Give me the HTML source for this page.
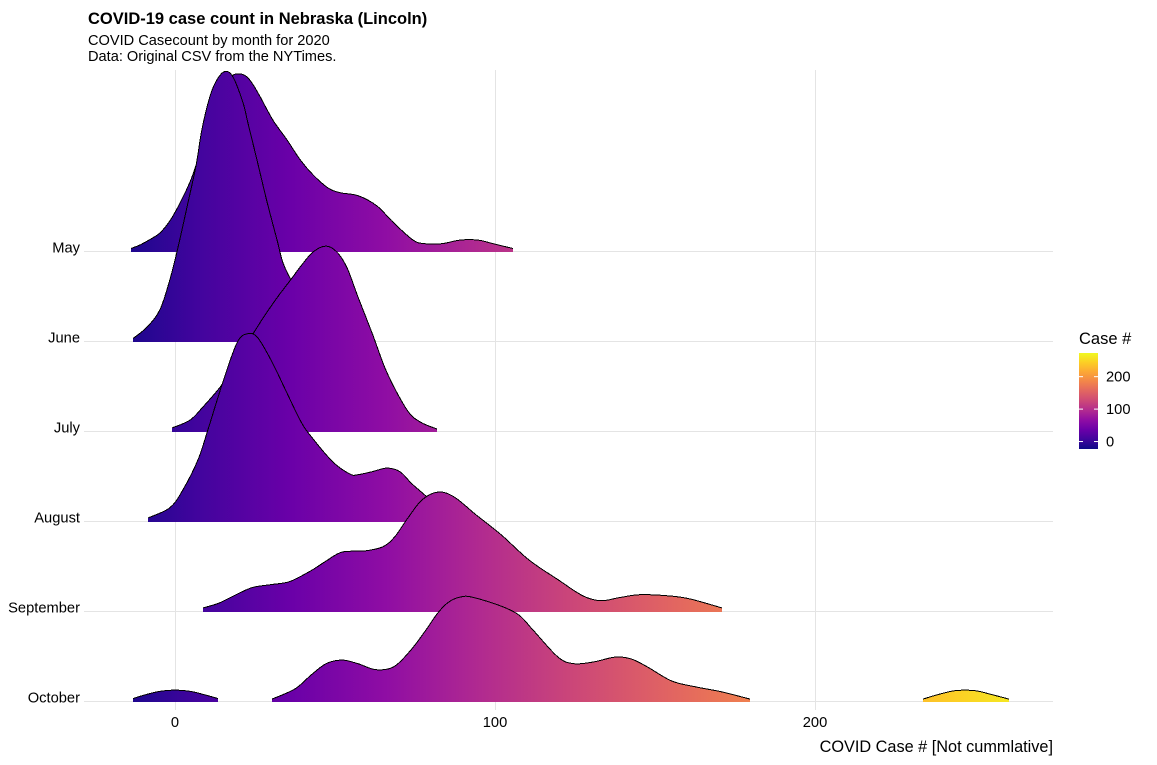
<!DOCTYPE html>
<html lang="en">
<head>
<meta charset="utf-8">
<title>COVID-19 case count in Nebraska (Lincoln)</title>
<style>
html,body{margin:0;padding:0;background:#fff;width:1157px;height:765px;overflow:hidden}
svg{display:block}
text{font-family:"Liberation Sans",Arial,sans-serif;fill:#000}
</style>
</head>
<body>
<svg id="chart" width="1157" height="765" viewBox="0 0 1157 765" xmlns="http://www.w3.org/2000/svg">
  <defs>
    <linearGradient id="ridge-fill" gradientUnits="userSpaceOnUse" x1="0" y1="0" x2="1" y2="0"></linearGradient>
    <linearGradient id="legend-fill" gradientUnits="userSpaceOnUse" x1="0" y1="0" x2="0" y2="1"></linearGradient>
  </defs>
  <text x="88" y="24" font-size="16.5" font-weight="700">COVID-19 case count in Nebraska (Lincoln)</text>
  <text x="88" y="45" font-size="14.6">COVID Casecount by month for 2020</text>
  <text x="88" y="61" font-size="14.6">Data: Original CSV from the NYTimes.</text>
  <g id="grid"></g>
  <g id="ridges"></g>
  <g id="axis-y"></g>
  <g id="axis-x"></g>
  <text x="1053" y="752" font-size="16.3" text-anchor="end">COVID Case # [Not cummlative]</text>
  <g id="legend">
    <text x="1079" y="344" font-size="16.5">Case #</text>
  </g>
</svg>
<script>
// Months, top to bottom (drawn back to front)
const months = ['May', 'June', 'July', 'August', 'September', 'October'];
const xTicks = [0, 100, 200];
const legendTicks = [0, 100, 200];
const colorDomain = [-23, 273];
const plasma = ['#0d0887','#41049d','#6a00a8','#8f0da4','#b12a90','#cc4778','#e16462','#f2844b','#fca636','#fcce25','#f0f921'];

// Case counts and density (per 1000) read from each ridge
const mayCases = [-13.75,-10.9,-7.8,-4.7,-1.6,1.6,4.7,6.6,9.4,12.5,15.6,18.1,20.3,22.5,24.4,26.6,30.6,35,39.1,43.1,47.8,51.6,57.2,63.1,68.1,74.4,78.1,83.4,89.1,94.7,99.4,105.6];
const mayDensity = [0.5,1.1,2,3.1,5.1,8.1,11.6,14.4,19.4,25.3,28.3,29.4,29.6,29.1,27.8,25.8,21.9,18.6,15.3,12.8,10.6,9.8,9.3,7.6,4.9,1.9,1.3,1.3,1.9,1.9,1.3,0.5];
const juneCases = [-13.1,-8.75,-4.7,-1.6,0.9,3.75,6.6,8.4,10.9,13.1,15.6,18.1,21.25,22.8,25.6,28.75,31.9,33.75,36.6,40.6,45.3,50];
const juneDensity = [0.5,2.4,5.3,10.3,15.6,22.4,29.4,35.3,40.8,43.6,45,44.1,39.8,36.4,30.3,23.3,16.9,13.1,9.9,6.1,2.8,0.8];
const julyCases = [-0.9,4.7,8.75,14.1,18.75,21.9,24.4,27.5,31.9,36.6,39.1,43.1,47.2,50.6,53.75,57.2,61.6,66.25,72.5,76.6,81.9];
const julyDensity = [0.6,1.9,4.1,7.4,11.1,14.4,16.3,18.9,22.3,25.6,27.4,29.9,30.9,29.9,27.3,22.4,16.4,9.8,3.6,1.6,0.4];
const augustCases = [-8.4,-1.6,2.5,7.2,10.3,14.7,19.4,22.8,25.9,30.3,35,39.1,42.2,49.4,54.7,57.2,61.6,66.25,70.3,74,78.7,82.8,87.5,90.6];
const augustDensity = [0.6,2.3,5.3,10.3,15.3,22.8,29.8,31.3,30.6,26.6,21.4,16.9,14.4,9.9,7.9,7.8,8.3,8.9,8.3,6.3,4.1,1.9,0.8,0.4];
const septemberCases = [8.75,13.75,19.1,24.2,30.3,35.9,42.5,47.2,52.2,59.4,65,68.75,72.8,77.2,82.2,87.2,94.1,101.9,110.6,119.7,127.5,133.1,138.75,145.3,154.4,160.9,170.9];
const septemberDensity = [0.6,1.4,2.8,4,4.5,5,6.8,8.4,9.9,10.1,10.8,12.5,15.6,18.6,19.9,19.1,16.1,12.8,8.6,5.3,2.6,1.8,2.3,2.8,2.6,2.1,0.6];
const octoberLowCases = [-13.1,-9.4,-4.7,0,4.7,9.4,13.4];
const octoberLowDensity = [0.5,1.1,1.7,1.9,1.7,1.1,0.5];
const octoberMainCases = [30.3,37.5,42.5,47.2,52.2,57.2,62.8,68.4,73.75,78.4,82.2,85.6,89.1,92.8,101.9,107.5,111.9,119.7,124.7,130.9,137.5,142.5,147.5,155.3,163.1,170.9,179.7];
const octoberMainDensity = [0.4,2.1,4.4,6.3,6.9,6.3,5.3,5.8,8.6,11.9,14.8,16.6,17.4,17.4,15.9,14.4,11.9,7.4,6.3,6.6,7.4,7.1,5.8,3.4,2.4,1.6,0.4];
const octoberHighCases = [233.75,238.1,243.75,250,255.6,260.6];
const octoberHighDensity = [0.4,1.1,1.8,1.8,1.1,0.4];

const ridgeSegments = [
  {month: 'May', name: 'ridge-may', cases: mayCases, density: mayDensity},
  {month: 'June', name: 'ridge-june', cases: juneCases, density: juneDensity},
  {month: 'July', name: 'ridge-july', cases: julyCases, density: julyDensity},
  {month: 'August', name: 'ridge-august', cases: augustCases, density: augustDensity},
  {month: 'September', name: 'ridge-september', cases: septemberCases, density: septemberDensity},
  {month: 'October', name: 'ridge-october-low', cases: octoberLowCases, density: octoberLowDensity},
  {month: 'October', name: 'ridge-october-main', cases: octoberMainCases, density: octoberMainDensity},
  {month: 'October', name: 'ridge-october-high', cases: octoberHighCases, density: octoberHighDensity}
];

const SVGNS = 'http://www.w3.org/2000/svg';
const plot = {left: 84, right: 1053, top: 70, bottom: 710};
const xScale = v => 175 + v * 3.2;
const rowScale = m => 251.5 + months.indexOf(m) * 90;
const heightScale = d => d * 6;
const legendBox = {x: 1079, width: 19, top: 353, bottom: 449};
const legendScale = v => legendBox.bottom - (v - colorDomain[0]) / (colorDomain[1] - colorDomain[0]) * (legendBox.bottom - legendBox.top);

function create(parent, tag, attrs) {
  const el = document.createElementNS(SVGNS, tag);
  for (const k in attrs) el.setAttribute(k, attrs[k]);
  parent.appendChild(el);
  return el;
}

// Gradients
const ridgeGrad = document.getElementById('ridge-fill');
ridgeGrad.setAttribute('x1', xScale(colorDomain[0]));
ridgeGrad.setAttribute('x2', xScale(colorDomain[1]));
const legendGrad = document.getElementById('legend-fill');
legendGrad.setAttribute('y1', legendScale(colorDomain[0]));
legendGrad.setAttribute('y2', legendScale(colorDomain[1]));
plasma.forEach((c, i) => {
  create(ridgeGrad, 'stop', {offset: i / (plasma.length - 1), 'stop-color': c});
  create(legendGrad, 'stop', {offset: i / (plasma.length - 1), 'stop-color': c});
});

// Grid
const grid = document.getElementById('grid');
xTicks.forEach(t => {
  const line = create(grid, 'line', {x1: xScale(t) + 0.5, x2: xScale(t) + 0.5, y1: plot.top, y2: plot.bottom, stroke: '#e4e4e4', 'stroke-width': 1, 'shape-rendering': 'crispEdges'});
  
  
});
months.forEach(m => {
  const line = create(grid, 'line', {x1: plot.left, x2: plot.right, y1: rowScale(m), y2: rowScale(m), stroke: '#e4e4e4', 'stroke-width': 1, 'shape-rendering': 'crispEdges'});
  
  
});

// Catmull-Rom spline through the points
function spline(pts) {
  let d = '';
  for (let i = 0; i < pts.length - 1; i++) {
    const p0 = pts[Math.max(0, i - 1)], p1 = pts[i], p2 = pts[i + 1], p3 = pts[Math.min(pts.length - 1, i + 2)];
    const c1x = p1[0] + (p2[0] - p0[0]) / 6, c1y = p1[1] + (p2[1] - p0[1]) / 6;
    const c2x = p2[0] - (p3[0] - p1[0]) / 6, c2y = p2[1] - (p3[1] - p1[1]) / 6;
    d += ' C' + c1x.toFixed(2) + ' ' + c1y.toFixed(2) + ' ' + c2x.toFixed(2) + ' ' + c2y.toFixed(2) + ' ' + p2[0].toFixed(2) + ' ' + p2[1].toFixed(2);
  }
  return d;
}

// Ridges
const ridges = document.getElementById('ridges');
ridgeSegments.forEach(seg => {
  const base = rowScale(seg.month);
  const pts = seg.cases.map((c, i) => [xScale(c), base - heightScale(seg.density[i])]);
  const curve = spline(pts);
  const first = pts[0], last = pts[pts.length - 1];
  const area = create(ridges, 'path', {
    d: 'M' + first[0].toFixed(2) + ' ' + (base + 0.5) + ' L' + first[0].toFixed(2) + ' ' + first[1].toFixed(2) + curve + ' L' + last[0].toFixed(2) + ' ' + (base + 0.5) + ' Z',
    fill: 'url(#ridge-fill)', stroke: 'none', 'shape-rendering': 'crispEdges'
  });
  
  
  const outline = create(ridges, 'path', {
    d: 'M' + first[0].toFixed(2) + ' ' + first[1].toFixed(2) + curve,
    fill: 'none', stroke: '#000', 'stroke-width': 1, 'shape-rendering': 'crispEdges'
  });
  
  
});

// Y axis labels
const axisY = document.getElementById('axis-y');
months.forEach(m => {
  const t = create(axisY, 'text', {x: 80, y: rowScale(m) + 1, 'font-size': 14.7, 'text-anchor': 'end'});
  t.textContent = m;
  
  
});

// X axis labels
const axisX = document.getElementById('axis-x');
xTicks.forEach(v => {
  const t = create(axisX, 'text', {x: xScale(v), y: 727, 'font-size': 14.7, 'text-anchor': 'middle'});
  t.textContent = v;
  
  
});

// Legend
const legend = document.getElementById('legend');
const bar = create(legend, 'rect', {x: legendBox.x, y: legendBox.top, width: legendBox.width, height: legendBox.bottom - legendBox.top, fill: 'url(#legend-fill)'});


legendTicks.forEach(v => {
  const y = legendScale(v);
  const tl = create(legend, 'line', {x1: legendBox.x, x2: legendBox.x + 4, y1: y, y2: y, stroke: '#fff', 'stroke-width': 1});
  
  
  const tr = create(legend, 'line', {x1: legendBox.x + legendBox.width - 4, x2: legendBox.x + legendBox.width, y1: y, y2: y, stroke: '#fff', 'stroke-width': 1});
  
  
  const label = create(legend, 'text', {x: 1106, y: y + 5, 'font-size': 14.7});
  label.textContent = v;
  
  
});
</script>
</body>
</html>
